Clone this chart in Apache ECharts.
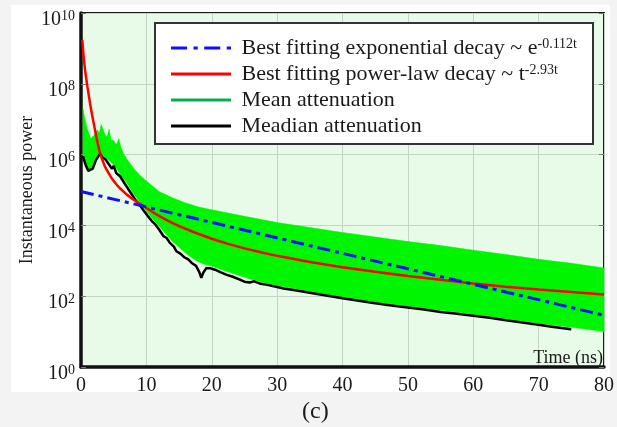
<!DOCTYPE html>
<html><head><meta charset="utf-8">
<script src="https://cdn.jsdelivr.net/npm/echarts@6/dist/echarts.min.js"></script>
<style>html,body{margin:0;padding:0;background:#f3f3f3;}#c{width:617px;height:427px;}</style>
</head><body><div id="c"></div>
<script>
// ---- data ----
const xTicks = [0, 10, 20, 30, 40, 50, 60, 70, 80];
const legendNames = [
  'Best fitting exponential decay ~ e',
  'Best fitting power-law decay ~ t',
  'Mean attenuation',
  'Meadian attenuation'
];
const legendSup = ['-0.112t', '-2.93t', '', ''];

const expDecay = [[0, 9.1e4], [80, 29]];

const powerLaw = [
  [0.2, 1.74e9], [0.4, 6.0e8], [0.6, 2.6e8], [0.8, 1.41e8], [1.0, 7.9e7], [1.2, 4.6e7],
  [1.4, 2.7e7], [1.7, 1.32e7], [2.0, 6.8e6], [2.4, 2.8e6], [2.8, 1.32e6], [3.2, 7.6e5],
  [3.6, 4.9e5], [4.0, 3.5e5], [4.5, 2.45e5], [5.0, 1.78e5], [5.5, 1.38e5], [6.0, 1.1e5],
  [7.0, 7.4e4], [8.0, 5.4e4], [9.0, 4.1e4], [10, 3.1e4], [11, 2.35e4], [12, 1.82e4],
  [13.5, 1.29e4], [15, 9.5e3], [17.5, 6.2e3], [20, 4.2e3], [22.5, 3.0e3], [25, 2.24e3],
  [27.5, 1.74e3], [30, 1.38e3], [35, 930], [40, 660], [45, 490], [50, 370],
  [55, 290], [60, 230], [65, 186], [70, 155], [75, 132], [80, 112]
];

const meanUpper = [
  [0.3, 2.0e7], [0.6, 1.0e7], [1.0, 5.0e6], [1.5, 2.8e6], [2.0, 3.5e6], [2.5, 5.0e6],
  [2.8, 4.0e6], [3.1, 7.1e6], [3.4, 5.0e6], [3.7, 3.5e6], [4.0, 3.2e6], [4.3, 5.2e6],
  [4.6, 2.6e6], [5.0, 2.5e6], [5.4, 1.9e6], [5.8, 2.8e6], [6.1, 1.6e6], [6.5, 1.05e6],
  [7, 7.6e5], [8, 4.2e5], [9, 2.6e5], [10, 1.8e5], [12, 8.9e4], [14, 6.0e4], [16, 4.3e4],
  [18, 3.3e4], [20, 2.75e4], [25, 1.8e4], [30, 1.2e4], [35, 8.7e3], [40, 6.3e3],
  [45, 4.7e3], [50, 3.5e3], [55, 2.7e3], [60, 2.0e3], [65, 1.5e3], [70, 1.1e3],
  [75, 850], [80, 630]
];

const meanLower = [
  [0.3, 1.0e6], [0.7, 5.6e5], [1.1, 3.8e5], [1.5, 3.8e5], [2.0, 5.6e5], [2.5, 8.9e5],
  [3.0, 1.1e6], [3.5, 8.9e5], [4.5, 6.3e5], [5.3, 4.5e5], [6, 2.8e5], [7, 1.6e5],
  [8, 7.9e4], [9, 4.5e4], [10, 2.5e4], [11, 1.5e4], [12, 9.3e3], [13, 5.6e3], [14, 3.5e3],
  [15, 2.4e3], [16, 1.66e3], [17, 1.2e3], [18, 930], [19, 790], [20, 710], [22, 520],
  [24, 400], [26, 300], [28, 240], [30, 200], [33, 160], [36, 126], [40, 93], [45, 69],
  [50, 52], [55, 40], [60, 31], [65, 23], [70, 17], [75, 13.2], [80, 10]
];

const median = [
  [0.3, 8.9e5], [0.7, 5.2e5], [1.1, 3.5e5], [1.4, 3.3e5], [1.8, 4.0e5], [2.3, 7.1e5],
  [2.9, 1.05e6], [3.3, 8.3e5], [3.8, 7.1e5], [4.3, 5.2e5], [4.7, 4.0e5], [5.0, 4.8e5],
  [5.4, 3.0e5], [6.0, 2.4e5], [6.7, 1.5e5], [7.5, 8.9e4], [8.4, 5.0e4], [9.1, 3.5e4],
  [9.6, 2.6e4], [10.2, 1.86e4], [10.8, 1.35e4], [11.4, 1.05e4], [12, 7.4e3], [12.6, 5.0e3],
  [13.1, 4.4e3], [13.6, 3.2e3], [14.2, 2.5e3], [14.6, 1.86e3], [15.2, 1.6e3], [15.8, 1.26e3],
  [16.4, 1.1e3], [17, 850], [17.6, 720], [18.1, 480], [18.4, 330], [18.7, 460], [19.2, 630],
  [19.7, 620], [20.5, 560], [21.3, 480], [22.3, 400], [23.2, 355], [24.2, 300], [25, 257],
  [25.8, 245], [26.5, 263], [27.5, 224], [28.5, 209], [30, 182], [31, 166], [33, 145],
  [35, 126], [37.5, 105], [40, 87], [42.5, 74], [45, 63], [47.5, 55], [50, 48], [52.5, 42],
  [55, 36], [57.5, 32], [60, 28], [62.5, 24.5], [65, 21], [67.5, 18.2], [70, 15.5],
  [72, 13.8], [73.5, 12.6], [75, 11.7]
];

// ---- chart ----
const FONT = '"Liberation Serif", "DejaVu Serif", serif';
const chart = echarts.init(document.getElementById('c'), null, {renderer: 'canvas'});

function powLabel(v) {
  const e = Math.round(Math.log10(v));
  return '{b|10}{s|' + e + '}';
}
const yLabel = {
  formatter: powLabel,
  margin: 6,
  padding: [14, 0, 0, 0],
  rich: {
    b: {fontFamily: FONT, fontSize: 20, color: '#1a1a1a', lineHeight: 22},
    s: {fontFamily: FONT, fontSize: 14, color: '#1a1a1a', verticalAlign: 'top', lineHeight: 14}
  }
};

const option = {
  backgroundColor: '#f3f3f3',
  animation: false,
  graphic: [
    {type: 'rect', z: -1, shape: {x: 11, y: 5, width: 599, height: 387}, style: {fill: '#ffffff'}},
    {type: 'text', z: 50, right: 14, top: 349, style: {text: 'Time (ns)', font: '18px ' + FONT, fill: '#1a1a1a'}},
    {type: 'text', z: 50, left: 302, top: 400, style: {text: '(c)', font: '24px ' + FONT, fill: '#1a1a1a'}}
  ],
  grid: {
    left: 81, right: 11, top: 13, bottom: 60,
    show: true, backgroundColor: '#e8fbe8', borderColor: '#1a1a1a', borderWidth: 2
  },
  legend: {
    left: 155, top: 23, orient: 'vertical',
    itemWidth: 60, itemHeight: 12, itemGap: 4,
    padding: [14, 16, 7, 16],
    backgroundColor: '#ffffff', borderColor: '#333333', borderWidth: 2,
    selectedMode: false,
    data: [
      {name: legendNames[0], icon: 'path://M0,0h15v3h-15zM21,0h4v3h-4zM31,0h15v3h-15zM52,0h4v3h-4z', itemStyle: {color: '#1010ff'}},
      {name: legendNames[1], icon: 'path://M0,0h58v3h-58z', itemStyle: {color: '#ff0000'}},
      {name: legendNames[2], icon: 'path://M0,0h58v3h-58z', itemStyle: {color: '#00b050'}},
      {name: legendNames[3], icon: 'path://M0,0h58v3h-58z', itemStyle: {color: '#000000'}}
    ],
    formatter: function (name) {
      const i = legendNames.indexOf(name);
      return legendSup[i] ? ' ' + name + '{sup|' + legendSup[i] + '}' : ' ' + name;
    },
    textStyle: {
      fontFamily: FONT, fontSize: 22, color: '#1a1a1a', lineHeight: 22,
      rich: {sup: {fontFamily: FONT, fontSize: 14, color: '#1a1a1a', verticalAlign: 'top', lineHeight: 14}}
    }
  },
  xAxis: {
    type: 'value', min: 0, max: 80, interval: 10,
    axisLine: {show: true, onZero: false, lineStyle: {color: '#111', width: 3.5}},
    axisTick: {show: false},
    axisLabel: {fontFamily: FONT, fontSize: 20, color: '#1a1a1a', margin: 9},
    splitLine: {show: true, lineStyle: {color: '#c5d5c5', width: 1}}
  },
  yAxis: [
    {
      type: 'log', logBase: 100, min: 1, max: 1e10,
      name: 'Instantaneous power', nameLocation: 'middle', nameGap: 45, nameMoveOverlap: false,
      nameTextStyle: {fontFamily: FONT, fontSize: 18, color: '#1a1a1a'},
      axisLine: {show: true, lineStyle: {color: '#111', width: 3.5}},
      axisTick: {show: true, inside: true, length: 5, lineStyle: {color: '#777'}},
      axisLabel: yLabel,
      splitLine: {show: true, lineStyle: {color: '#c5d5c5', width: 1}},
      minorTick: {show: false}
    },
    {
      type: 'log', logBase: 100, min: 1, max: 1e10, position: 'right',
      axisLine: {show: false},
      axisTick: {show: true, inside: true, length: 5, lineStyle: {color: '#777'}},
      axisLabel: {show: false},
      splitLine: {show: false}
    }
  ],
  series: [
    {
      name: legendNames[2], type: 'custom', z: 2,
      itemStyle: {color: '#00b050'},
      data: [[40, 1000]],
      renderItem: function (params, api) {
        const pts = [];
        for (let i = 0; i < meanUpper.length; i++) pts.push(api.coord(meanUpper[i]));
        for (let i = meanLower.length - 1; i >= 0; i--) pts.push(api.coord(meanLower[i]));
        return {type: 'polygon', shape: {points: pts}, style: {fill: '#00f500', stroke: '#00f000', lineWidth: 0.5}};
      }
    },
    {
      name: legendNames[3], type: 'line', z: 3, data: median, symbol: 'none',
      lineStyle: {color: '#000000', width: 2.5}, itemStyle: {color: '#000'}
    },
    {
      name: legendNames[1], type: 'line', z: 4, data: powerLaw, symbol: 'none',
      lineStyle: {color: '#ff0000', width: 2.5}, itemStyle: {color: '#ff0000'}
    },
    {
      name: legendNames[0], type: 'line', z: 5, data: expDecay, symbol: 'none',
      lineStyle: {color: '#1010ff', width: 3, type: [13, 5, 4, 5]}, itemStyle: {color: '#1010ff'}
    }
  ]
};
chart.setOption(option);
</script></body></html>
